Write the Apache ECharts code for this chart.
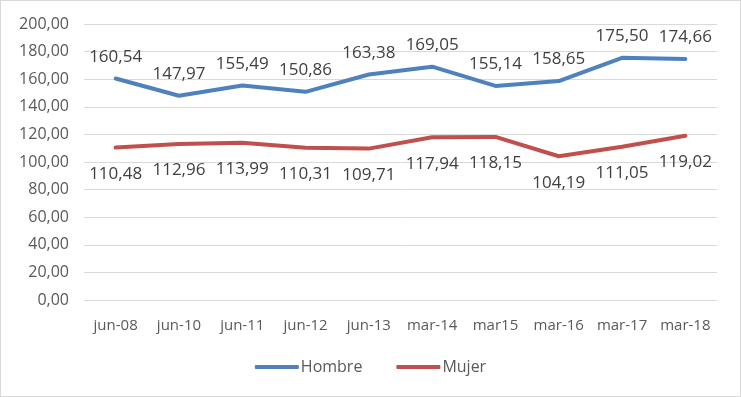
<html>
    <head>
        <meta charset="utf-8">
        <script src='https://cdn.jsdelivr.net/npm/echarts@6/dist/echarts.min.js'></script>
    </head>
    <body>
        <style>
            html, body{
                width: 100%;
                height: 100%;
                margin: 0;
                background: #fff;
            }
            #main{
                width: 739px;
                height: 395px;
                border: 1px solid #d9d9d9;
            }
        </style>
        <div id='main'></div>
        <script>
            // datos
            var categorias = ['jun-08', 'jun-10', 'jun-11', 'jun-12', 'jun-13', 'mar-14', 'mar15', 'mar-16', 'mar-17', 'mar-18'];
            var hombre = [160.54, 147.97, 155.49, 150.86, 163.38, 169.05, 155.14, 158.65, 175.50, 174.66];
            var mujer = [110.48, 112.96, 113.99, 110.31, 109.71, 117.94, 118.15, 104.19, 111.05, 119.02];

            function coma(v){
                return Number(v).toFixed(2).replace('.', ',');
            }

            var fuente = "'Open Sans', 'Liberation Sans', sans-serif";
            var chart = echarts.init(document.getElementById('main'));
            var option = {
                animation: false,
                grid: {
                    left: 83,
                    right: 23,
                    top: 23,
                    bottom: 96
                },
                legend: {
                    bottom: 16,
                    left: 'center',
                    itemWidth: 44,
                    itemHeight: 4,
                    itemGap: 34,
                    icon: 'roundRect',
                    textStyle: { fontFamily: fuente, fontSize: 16, color: '#595959', padding: [0, 0, 0, -3] },
                    data: ['Hombre', 'Mujer']
                },
                xAxis: {
                    type: 'category',
                    data: categorias,
                    axisLine: { show: false },
                    axisTick: { show: false },
                    axisLabel: { interval: 0, fontFamily: fuente, fontSize: 15, color: '#595959', margin: 18 }
                },
                yAxis: {
                    type: 'value',
                    min: 0,
                    max: 200,
                    interval: 20,
                    axisLabel: {
                        fontFamily: fuente, fontSize: 16, color: '#595959', margin: 15,
                        formatter: coma
                    },
                    splitLine: { lineStyle: { color: '#d9d9d9', width: 1 } }
                },
                series: [
                    {
                        name: 'Hombre',
                        type: 'line',
                        data: hombre,
                        symbol: 'circle',
                        symbolSize: 0,
                        lineStyle: { color: '#4f81bd', width: 4, cap: 'round', join: 'round' },
                        itemStyle: { color: '#4f81bd' },
                        label: {
                            show: true, position: 'top', distance: 13,
                            fontFamily: fuente, fontSize: 17, color: '#404040',
                            formatter: function (p) { return coma(p.value); }
                        }
                    },
                    {
                        name: 'Mujer',
                        type: 'line',
                        data: mujer,
                        symbol: 'circle',
                        symbolSize: 0,
                        lineStyle: { color: '#c0504d', width: 4, cap: 'round', join: 'round' },
                        itemStyle: { color: '#c0504d' },
                        label: {
                            show: true, position: 'bottom', distance: 18,
                            fontFamily: fuente, fontSize: 17, color: '#404040',
                            formatter: function (p) { return coma(p.value); }
                        }
                    }
                ]
            };
            chart.setOption(option);
            window.onresize = chart.resize;
        </script>
    </body>
</html>
